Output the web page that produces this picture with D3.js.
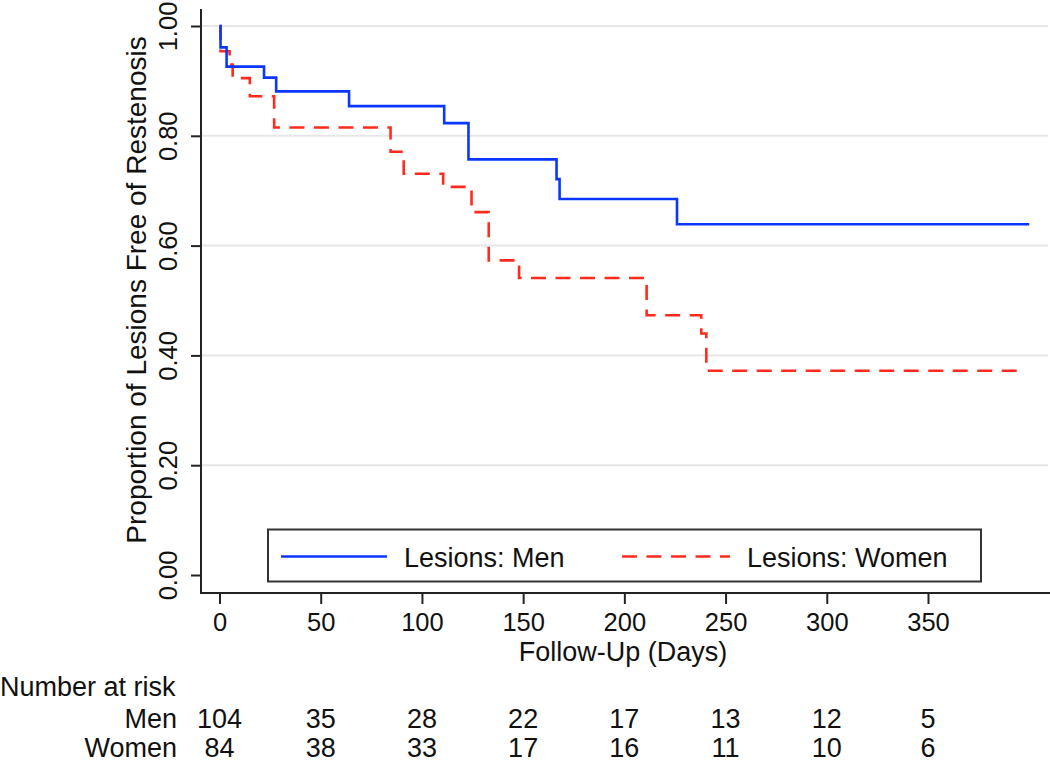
<!DOCTYPE html>
<html>
<head>
<meta charset="utf-8">
<script src="https://cdn.jsdelivr.net/npm/d3@7"></script>
<style>
  body { margin: 0; background: #fff; }
  text { font-family: "Liberation Sans", Arial, Helvetica, sans-serif; fill: #111; }
</style>
</head>
<body>
<div id="chart"></div>
<script>
// chart values
var dayTicks = [0, 50, 100, 150, 200, 250, 300, 350];
var propTicks = [0, 0.2, 0.4, 0.6, 0.8, 1.0];

// Kaplan-Meier steps: time of drop and value after it
var menTimes = [0, 0.5, 3.5, 22, 28, 64, 111, 123, 166.5, 168, 226, 400];
var menSurv  = [1, 0.961, 0.926, 0.906, 0.881, 0.854, 0.823, 0.757, 0.721, 0.685, 0.639, 0.639];
var womenTimes = [0, 0.5, 5, 6.5, 15, 27, 84.5, 91, 110.5, 124.5, 133, 148, 211, 238, 240.5, 397.5];
var womenSurv  = [1, 0.954, 0.93, 0.905, 0.872, 0.815, 0.771, 0.731, 0.707, 0.661, 0.573, 0.541, 0.473, 0.44, 0.372, 0.372];

var seriesNames = ["Lesions: Men", "Lesions: Women"];
var riskGroups = ["Men", "Women"];
var menRisk = [104, 35, 28, 22, 17, 13, 12, 5];
var womenRisk = [84, 38, 33, 17, 16, 11, 10, 6];

var svgWidth = 1050;
var svgHeight = 763;

var svg = d3.select("#chart")
  .append("svg")
  .attr("width", svgWidth)
  .attr("height", svgHeight);

var axisX = 201;   // position of the y axis line
var axisY = 593;   // position of the x axis line

var x = d3.scaleLinear().domain([0, 350]).range([219.5, 928]);
var y = d3.scaleLinear().domain([0, 1]).range([575, 26]);

// grid lines
svg.append("g")
  .selectAll("line")
  .data(propTicks.filter(d => d > 0))
  .enter()
  .append("line")
  .attr("x1", axisX)
  .attr("x2", 1048)
  .attr("y1", d => y(d))
  .attr("y2", d => y(d))
  .attr("stroke", "#e6e6e6")
  .attr("stroke-width", 2);

// y axis
var leftAxis = d3.axisLeft(y).tickValues(propTicks).tickFormat(d3.format(".2f"))
  .tickSize(10).tickSizeOuter(0);
var yAxis = svg.append("g")
  .attr("transform", `translate(${axisX},0)`)
  .call(leftAxis);
yAxis.select(".domain").remove();
yAxis.selectAll(".tick line").attr("stroke", "#222").attr("stroke-width", 2);
yAxis.selectAll(".tick text")
  .attr("x", null).attr("dy", null)
  .attr("transform", "translate(-24,0) rotate(-90)")
  .attr("text-anchor", "middle")
  .style("font-size", "25.5px")
  .style("font-family", "'Liberation Sans', Arial, sans-serif")
  .attr("fill", "#111");

// x axis
var bottomAxis = d3.axisBottom(x).tickValues(dayTicks).tickSize(11).tickSizeOuter(0);
var xAxis = svg.append("g")
  .attr("transform", `translate(0,${axisY})`)
  .call(bottomAxis);
xAxis.select(".domain").remove();
xAxis.selectAll(".tick line").attr("stroke", "#222").attr("stroke-width", 2);
xAxis.selectAll(".tick text")
  .attr("y", 38).attr("dy", null)
  .style("font-size", "25.5px")
  .style("font-family", "'Liberation Sans', Arial, sans-serif")
  .attr("fill", "#111");

// axis lines
svg.append("line")
  .attr("x1", axisX).attr("x2", axisX).attr("y1", 9).attr("y2", axisY + 1)
  .attr("stroke", "#222").attr("stroke-width", 2);
svg.append("line")
  .attr("x1", axisX - 1).attr("x2", 1050).attr("y1", axisY).attr("y2", axisY)
  .attr("stroke", "#222").attr("stroke-width", 2);

// survival curves
var line = d3.line()
  .x(d => x(d[0]))
  .y(d => y(d[1]))
  .curve(d3.curveStepAfter);

var menData = d3.zip(menTimes, menSurv);
var womenData = d3.zip(womenTimes, womenSurv);

svg.append("path")
  .datum(womenData)
  .attr("d", line)
  .attr("fill", "none")
  .attr("stroke", "#ff2b1c")
  .attr("stroke-width", 2.6)
  .attr("stroke-dasharray", "15,9.5");

svg.append("path")
  .datum(menData)
  .attr("d", line)
  .attr("fill", "none")
  .attr("stroke", "#0a36ff")
  .attr("stroke-width", 2.6);

// axis titles
svg.append("text")
  .attr("transform", "translate(146,290) rotate(-90)")
  .attr("text-anchor", "middle")
  .style("font-size", "28px")
  .text("Proportion of Lesions Free of Restenosis");

svg.append("text")
  .attr("x", 623)
  .attr("y", 661)
  .attr("text-anchor", "middle")
  .style("font-size", "27px")
  .text("Follow-Up (Days)");

// legend
var legend = svg.append("g");
legend.append("rect")
  .attr("x", 268).attr("y", 529.5)
  .attr("width", 713).attr("height", 52)
  .attr("fill", "#fff")
  .attr("stroke", "#333")
  .attr("stroke-width", 2);
legend.append("line")
  .attr("x1", 281).attr("x2", 387).attr("y1", 556.5).attr("y2", 556.5)
  .attr("stroke", "#0a36ff").attr("stroke-width", 2.6);
legend.append("line")
  .attr("x1", 622).attr("x2", 730).attr("y1", 556.5).attr("y2", 556.5)
  .attr("stroke", "#ff2b1c").attr("stroke-width", 2.6)
  .attr("stroke-dasharray", "15,9.5");
legend.append("text")
  .attr("x", 404).attr("y", 567)
  .style("font-size", "27px")
  .text(seriesNames[0]);
legend.append("text")
  .attr("x", 747).attr("y", 567)
  .style("font-size", "27px")
  .text(seriesNames[1]);

// number at risk table
svg.append("text")
  .attr("x", 0).attr("y", 696)
  .style("font-size", "27px")
  .text("Number at risk");

var riskRows = [menRisk, womenRisk];
var rowY = [728, 757];

riskGroups.forEach(function(name, i) {
  svg.append("text")
    .attr("x", 177).attr("y", rowY[i])
    .attr("text-anchor", "end")
    .style("font-size", "27px")
    .text(name);

  svg.append("g")
    .selectAll("text")
    .data(riskRows[i])
    .enter()
    .append("text")
    .attr("x", (d, j) => x(dayTicks[j]))
    .attr("y", rowY[i])
    .attr("text-anchor", "middle")
    .style("font-size", "27px")
    .text(d => d);
});
</script>
</body>
</html>
